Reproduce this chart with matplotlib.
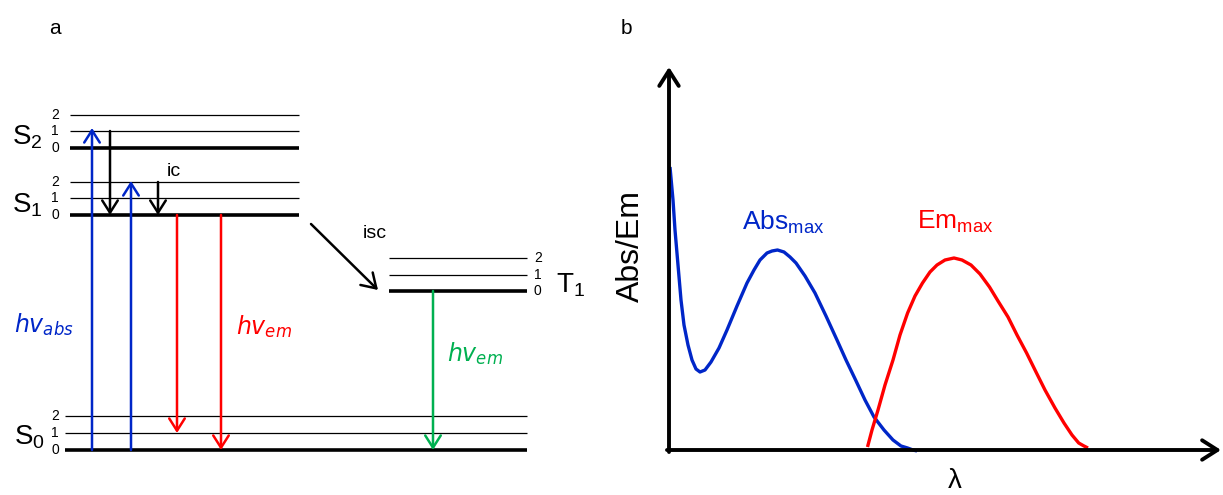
import matplotlib
matplotlib.use("Agg")
import matplotlib.pyplot as plt

plt.rcParams['font.family'] = ['Liberation Sans', 'DejaVu Sans']
plt.rcParams['mathtext.default'] = 'regular'

BLUE = "#0026c8"
RED = "#ff0000"
GREEN = "#00b050"

# ---- panel a: energy levels (pixel coords, y down) ----
S2_y = [148, 131, 115]
S1_y = [215, 198, 182]
T1_y = [291, 275, 258]
S0_y = [450, 433, 416]
singlet_x = (70, 299)
T1_x = (389, 527)
S0_x = (65, 527)
vib_labels = ["0", "1", "2"]

# transitions: (x, y_start, y_end)
absorb = [(92, 450, 128), (131, 450, 181)]
relax = [(110, 131, 215), (158, 182, 215)]
emit = [(177, 215, 433), (221, 215, 450)]
phos = [(433, 291, 450)]
isc_arrow = ((311, 224), (378, 290))

# ---- panel b: spectra ----
abs_x = [670, 673, 675, 678, 681, 684, 688, 692, 696, 700, 705, 711, 719, 727, 737, 747, 754, 760, 767,
         772, 777.5, 784, 790, 796, 805, 815, 826, 837, 846, 855.6, 865, 874, 884, 893, 901, 907.6, 913, 917]
abs_y = [167, 200, 230, 265, 300, 325, 345, 360, 369, 372, 370, 362, 348, 330, 306, 283, 270, 260, 253,
         251, 250, 252, 257, 263, 276, 293, 316, 340, 360, 380, 400, 417, 430, 440, 446, 448, 450, 451]
em_x = [867.5, 872, 878, 885, 893, 900, 907.6, 915, 922.5, 930, 937, 945, 954, 962, 971, 980, 989.5,
        998, 1008, 1017, 1026.6, 1036, 1045, 1055, 1064, 1072, 1078.7, 1084, 1088]
em_y = [447, 430, 410, 385, 360, 335, 313, 296, 283, 272, 265, 260, 258, 260, 265, 274, 287,
        301, 317, 335, 353, 372, 390, 408, 423, 435, 443, 446, 448]

fig = plt.figure(figsize=(12.23, 4.95), dpi=100)
ax = fig.add_axes([0, 0, 1, 1])
ax.set_xlim(0, 1223)
ax.set_ylim(495, 0)
ax.axis("off")


def levels(ys, x0, x1):
    for i, y in enumerate(ys):
        ax.plot([x0, x1], [y, y], color="black", lw=2.6 if i == 0 else 0.9,
                solid_capstyle="butt")


levels(S2_y, *singlet_x)
levels(S1_y, *singlet_x)
levels(T1_y, *T1_x)
levels(S0_y, *S0_x)

for ys in (S2_y, S1_y, S0_y):
    for y, lab in zip(ys, vib_labels):
        ax.text(59, y, lab, fontsize=10, ha="right", va="center")
for y, lab in zip(T1_y, vib_labels):
    ax.text(534, y, lab, fontsize=10, ha="left", va="center")

ax.text(12, 137, r"S$_2$", fontsize=20, va="center")
ax.text(12, 205, r"S$_1$", fontsize=20, va="center")
ax.text(14, 437, r"S$_0$", fontsize=20, va="center")
ax.text(556, 285, r"T$_1$", fontsize=20, va="center")


def arrow(x0, y0, x1, y1, c, lw=1.8, ms=16):
    ax.annotate("", xy=(x1, y1), xytext=(x0, y0),
                arrowprops=dict(arrowstyle="->,head_length=0.55,head_width=0.35",
                                color=c, lw=lw, shrinkA=0, shrinkB=0,
                                mutation_scale=ms))


for x, y0, y1 in absorb:
    arrow(x, y0, x, y1, BLUE)
for x, y0, y1 in relax:
    arrow(x, y0, x, y1, "black")
for x, y0, y1 in emit:
    arrow(x, y0, x, y1, RED)
for x, y0, y1 in phos:
    arrow(x, y0, x, y1, GREEN)
arrow(*isc_arrow[0], *isc_arrow[1], "black", ms=18)

ax.text(167, 172, "ic", fontsize=14, va="center")
ax.text(363, 234, "isc", fontsize=14, va="center")
ax.text(14, 325, r"$\mathit{hv}_{\mathit{abs}}$", fontsize=17, color=BLUE, va="center")
ax.text(236, 327, r"$\mathit{hv}_{\mathit{em}}$", fontsize=17, color=RED, va="center")
ax.text(447, 354, r"$\mathit{hv}_{\mathit{em}}$", fontsize=17, color=GREEN, va="center")

ax.text(55, 28, "a", fontsize=15, ha="center", va="center")
ax.text(626, 28, "b", fontsize=15, ha="center", va="center")

# axes of panel b
arrow(669, 452, 669, 67, "black", lw=2.8, ms=20)
arrow(667, 450, 1221, 450, "black", lw=2.8, ms=20)
ax.text(631, 246, "Abs/Em", fontsize=23, rotation=90, ha="center", va="center")
ax.text(955, 494, "λ", fontsize=20, ha="center", va="bottom")

ax.plot(abs_x, abs_y, color=BLUE, lw=2.4, solid_capstyle="butt", solid_joinstyle="round")
ax.plot(em_x, em_y, color=RED, lw=2.4, solid_capstyle="butt", solid_joinstyle="round")
ax.text(742, 222, r"Abs$_{max}$", fontsize=19, color=BLUE, va="center")
ax.text(917, 222, r"Em$_{max}$", fontsize=19, color=RED, va="center")

fig.savefig("out.png", dpi=100)
